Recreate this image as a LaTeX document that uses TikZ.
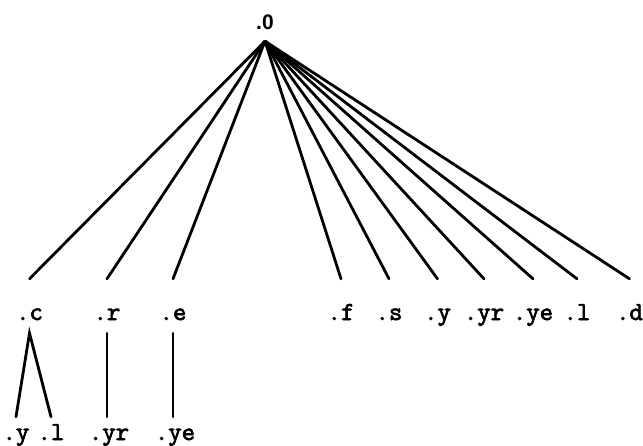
\documentclass[tikz,border=0pt]{standalone}
\usepackage{fontspec}
\setmainfont{Liberation Serif}
\newfontfamily\lblfont[FakeBold=2.6]{Latin Modern Mono}
\newfontfamily\rootfont{Liberation Sans}
\usetikzlibrary{positioning}

\begin{document}
\begin{tikzpicture}[
    x=1pt, y=-1pt,
    rootlbl/.style={font=\rootfont\bfseries\fontsize{21}{21}\selectfont, inner sep=0pt, anchor=base, text height=15pt, text depth=12pt},
    toplbl/.style={font=\lblfont\fontsize{26}{26}\selectfont, inner sep=0pt, anchor=base, text height=41pt, text depth=13pt},
    leaflbl/.style={font=\lblfont\fontsize{26}{26}\selectfont, inner sep=0pt, anchor=base, text height=23pt, text depth=4pt},
    branch/.style={line width=2.8pt, line cap=round}
]
\useasboundingbox (0,0) rectangle (643,445);

% Root
\node[rootlbl] (n0) at (265,29) {.0};

% Level 1
\node[toplbl] (c)  at (29.5,320) {.c};
\node[toplbl] (r)  at (107,320) {.r};
\node[toplbl] (e)  at (173,320) {.e};
\node[toplbl] (f)  at (341,320) {.f};
\node[toplbl] (s)  at (389,320) {.s};
\node[toplbl] (y)  at (437.5,320) {.y};
\node[toplbl] (yr) at (484,320) {.yr};
\node[toplbl] (ye) at (533,320) {.ye};
\node[toplbl] (l)  at (577,320) {.l};
\node[toplbl] (d)  at (629.5,320) {.d};

% Level 2
\node[leaflbl] (cy)  at (16,440) {.y};
\node[leaflbl] (cl)  at (51,440) {.l};
\node[leaflbl] (ryr) at (109,440) {.yr};
\node[leaflbl] (eye) at (175,440) {.ye};

\foreach \k in {c,r,e,f,s,y,yr,ye,l,d}
  \draw[branch] (n0.south) -- (\k.north);

\draw[branch] (cy.north) -- (c.south) -- (cl.north);
\draw[branch] (r.south) -- (r.south |- ryr.north);
\draw[branch] (e.south) -- (e.south |- eye.north);
\end{tikzpicture}
\end{document}
